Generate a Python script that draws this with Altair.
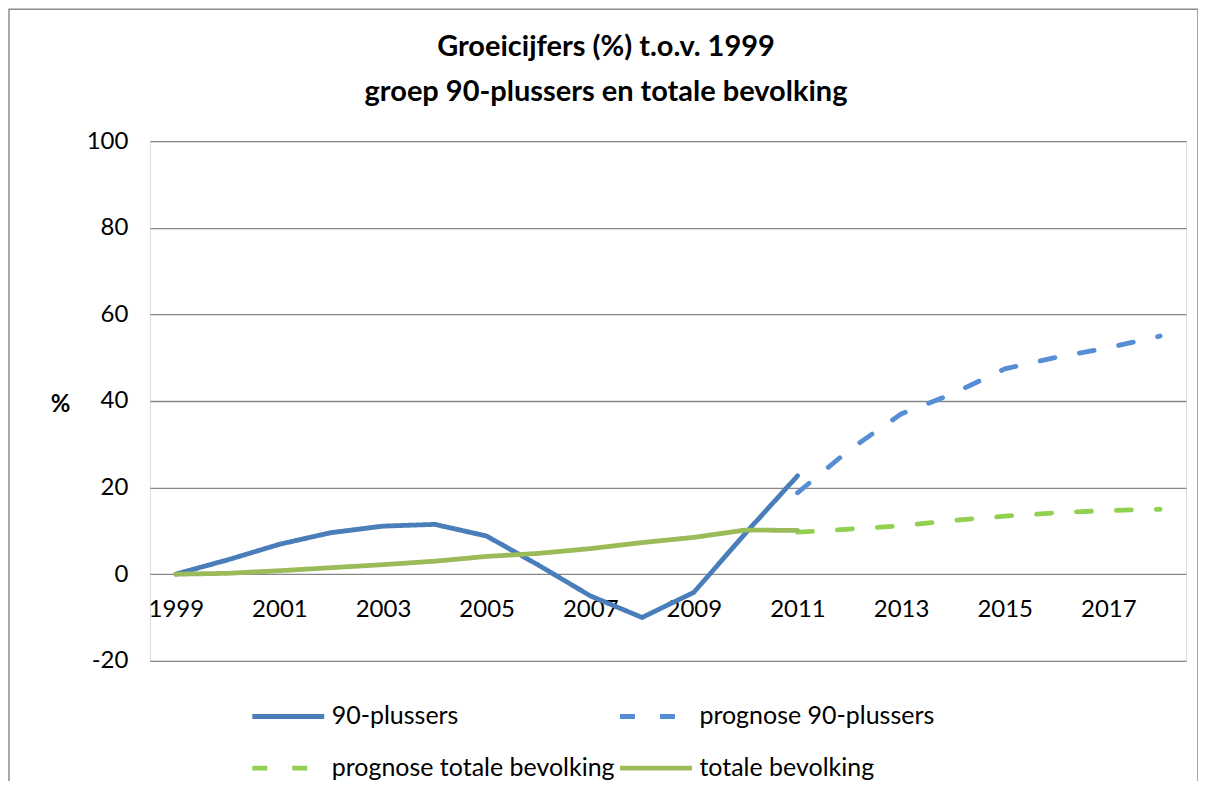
import altair as alt
import pandas as pd

# ---- data ----
jaren_hist = list(range(1999, 2012))
plussers90 = [0, 3.3, 6.9, 9.6, 11.1, 11.5, 8.8, 2.1, -5.0, -10.0, -4.2, 9.5, 22.7]
totaal = [0, 0.2, 0.8, 1.5, 2.2, 3.0, 4.1, 4.8, 5.9, 7.3, 8.5, 10.2, 10.1]

jaren_prog = list(range(2011, 2019))
prognose90 = [18.8, 28.7, 37.0, 41.7, 47.4, 50.1, 52.3, 55.0]
prognose_totaal = [9.7, 10.4, 11.2, 12.4, 13.4, 14.2, 14.7, 15.0]

series = ["90-plussers", "prognose 90-plussers", "prognose totale bevolking", "totale bevolking"]
kleuren = ["#4A7EBB", "#558ED5", "#92D050", "#9BBB59"]
streep = [[1, 0], [15, 25], [15, 25], [1, 0]]

alle_jaren = list(range(1999, 2019))
x_labels = list(range(1999, 2018, 2))
y_ticks = [-20, 0, 20, 40, 60, 80, 100]

rows = []
for j, v in zip(jaren_hist, plussers90):
    rows.append({"jaar": j, "waarde": v, "serie": series[0]})
for j, v in zip(jaren_prog, prognose90):
    rows.append({"jaar": j, "waarde": v, "serie": series[1]})
for j, v in zip(jaren_prog, prognose_totaal):
    rows.append({"jaar": j, "waarde": v, "serie": series[2]})
for j, v in zip(jaren_hist, totaal):
    rows.append({"jaar": j, "waarde": v, "serie": series[3]})
df = pd.DataFrame(rows)

FONT = "Lato"

legend = alt.Legend(
    title=None, orient="none", legendX=100, legendY=537, columns=2, direction="horizontal",
    symbolType="stroke", symbolSize=5184, symbolStrokeWidth=4.8,
    labelFontSize=25, labelFont=FONT, labelColor="black", labelOffset=5,
    columnPadding=-6, rowPadding=-31, labelLimit=500,
)

lines = alt.Chart(df).mark_line(strokeWidth=4.8, strokeCap="round", strokeJoin="round").encode(
    x=alt.X("jaar:O", scale=alt.Scale(type="point", domain=alle_jaren, padding=0.5),
            axis=alt.Axis(values=x_labels, labelAngle=0, domain=False, ticks=False, tickSize=0,
                          labelFontSize=24, labelFont=FONT, labelColor="black",
                          labelPadding=23, offset=-86.67, grid=False, title=None)),
    y=alt.Y("waarde:Q", scale=alt.Scale(domain=[-20, 100], nice=False, zero=False),
            axis=alt.Axis(values=y_ticks, labelExpr="datum.value + ''", grid=True,
                          gridColor="#868686", gridWidth=1.3,
                          domain=False, ticks=False, tickSize=0, labelFontSize=24, labelFont=FONT,
                          labelColor="black", labelPadding=22, title="%", titleAngle=0,
                          titleFontWeight="bold", titleFontSize=24, titleFont=FONT, titleColor="black",
                          titleX=-90, titleY=264, titleAlign="center", titleBaseline="middle")),
    color=alt.Color("serie:N", scale=alt.Scale(domain=series, range=kleuren), legend=legend),
    strokeDash=alt.StrokeDash("serie:N", scale=alt.Scale(domain=series, range=streep), legend=legend),
    order=alt.Order("jaar:O"),
)

frame = alt.Chart(alt.Data(values=[{"a": 1}])).mark_rect(
    fillOpacity=0, stroke="#8c8c8c", strokeWidth=1.5, clip=False
).encode(x=alt.value(-141), x2=alt.value(1049), y=alt.value(-132), y2=alt.value(700))

chart = alt.layer(frame, lines).properties(
    width=1037, height=520,
    title=alt.TitleParams(
        text=["Groeicijfers (%) t.o.v. 1999", "groep 90-plussers en totale bevolking"],
        fontSize=29, font=FONT, fontWeight="bold", color="black", anchor="middle",
        dx=-62, dy=99, offset=0, lineHeight=46,
    ),
    autosize=alt.AutoSizeParams(type="none"),
    padding={"left": 142, "top": 133, "right": 12, "bottom": 120},
).configure_view(stroke=None).configure(background="white")

chart.save("out.html", embed_options={"renderer": "svg", "actions": False})
